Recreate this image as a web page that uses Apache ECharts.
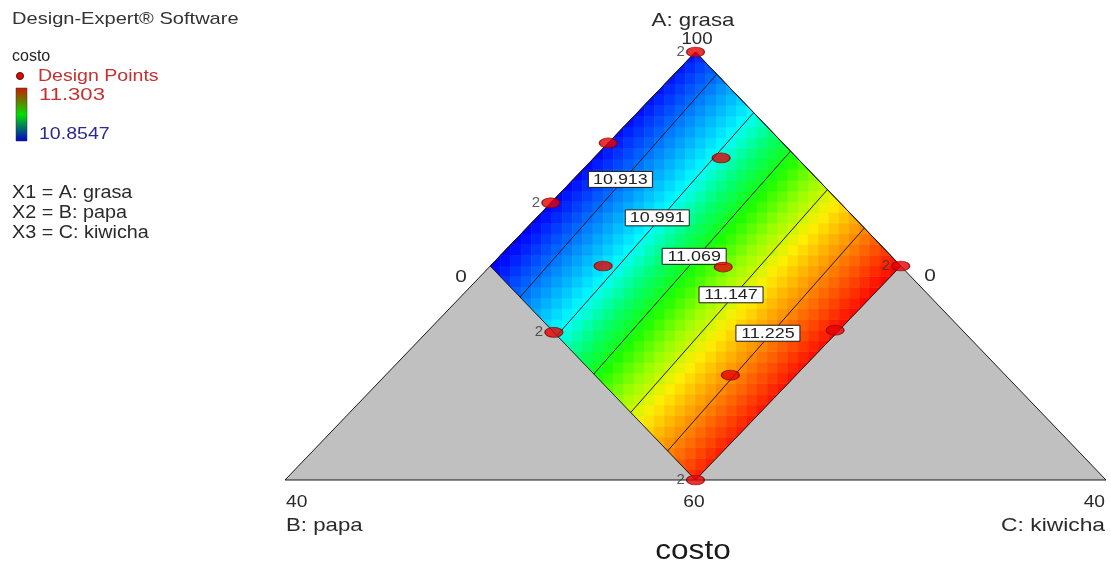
<!DOCTYPE html>
<html>
<head>
<meta charset="utf-8">
<title>costo</title>
<script src="https://cdn.jsdelivr.net/npm/echarts@6/dist/echarts.min.js"></script>
<style>
  html, body { margin: 0; padding: 0; background: #ffffff; }
  #chart { width: 1111px; height: 567px; }
</style>
</head>
<body>
<div id="chart"></div>
<script>
// ---- mixture data (percent of each component, A = 100 - B - C) ----
const simplexB = [0, 40, 0];          // full simplex shown: A 60..100
const simplexC = [0, 0, 40];
const regionB = [0, 20, 20, 0];       // feasible region (B <= 20, C <= 20)
const regionC = [0, 0, 20, 20];

// design points and their replicate counts
const pointB = [0, 8.5, 3.7, 14.1, 14.5, 8.7, 0, 20, 6.2, 13.4, 20];
const pointC = [0, 0, 6.2, 0, 5.5, 11.4, 20, 6.2, 19.8, 16.8, 20];
const pointReps = [2, 1, 1, 2, 1, 1, 2, 2, 1, 1, 2];

// contour levels of the fitted response
const contourLevels = [10.913, 10.991, 11.069, 11.147, 11.225];
const costRange = [10.8547, 11.303];

// linear Scheffe mixture model: costo = bA*A + bB*B + bC*C
const coefA = 0.10868, coefB = 0.10778, coefC = 0.13038;

// rainbow colour ramp, evenly spaced from min to max cost
const rampColors = ['#0000ff', '#0055ff', '#00aaff', '#00ffff', '#00ff71', '#1aff00',
                    '#99ff00', '#ffef00', '#ff9f00', '#ff5000', '#ff0000'];

// ---- helpers ----
// ternary (B, C) -> plane coordinates (x = C - B, y = A)
function tern(b, c) { return [c - b, 100 - b - c]; }
function predictCost(b, c) { return coefA * (100 - b - c) + coefB * b + coefC * c; }
// C on a contour for a given B
function contourC(level, b) { return (level - 100 * coefA - (coefB - coefA) * b) / (coefC - coefA); }

const bMin = Math.min(...regionB), bMax = Math.max(...regionB);
const cMin = Math.min(...regionC), cMax = Math.max(...regionC);
// half-planes of the feasible region in plane coordinates (inside when >= 0)
const regionEdges = [
  p => (100 - p[1] - p[0]) - 2 * bMin,
  p => 2 * bMax - (100 - p[1] - p[0]),
  p => (100 - p[1] + p[0]) - 2 * cMin,
  p => 2 * cMax - (100 - p[1] + p[0])
];
function clipPoly(poly, f) {
  const out = [];
  for (let i = 0; i < poly.length; i++) {
    const p = poly[i], q = poly[(i + 1) % poly.length];
    const fp = f(p), fq = f(q);
    if (fp >= 0) out.push(p);
    if ((fp >= 0) !== (fq >= 0)) {
      const t = fp / (fp - fq);
      out.push([p[0] + t * (q[0] - p[0]), p[1] + t * (q[1] - p[1])]);
    }
  }
  return out;
}

// colour cells over the region (unit squares of the plane)
const cellData = [];
for (let x = -cMax; x < cMax; x++) {
  for (let y = 100 - bMax - cMax; y < 100; y++) {
    const xc = x + 0.5, yc = y + 0.5;
    const b = (100 - yc - xc) / 2, c = (100 - yc + xc) / 2;
    cellData.push([x, y, predictCost(b, c)]);
  }
}

const simplexData = simplexB.map((b, i) => tern(b, simplexC[i]));
const regionData = regionB.map((b, i) => tern(b, regionC[i]));
const pointData = pointB.map((b, i) => tern(b, pointC[i]).concat([pointReps[i]]));
const contourSeries = contourLevels.map(level => ({
  type: 'line',
  data: [tern(bMin, contourC(level, bMin)), tern(bMax, contourC(level, bMax))],
  symbol: 'none',
  silent: true,
  z: 4,
  lineStyle: { color: '#1a1a1a', width: 1 }
}));
const labelB = 9.8;
const contourLabelData = contourLevels.map(level => tern(labelB, contourC(level, labelB)).concat([level]));

const FONT = '"Liberation Sans", Arial, sans-serif';
function txt(text, x, y, size, opts) {
  opts = opts || {};
  return {
    type: 'text', x: x, y: y, scaleX: opts.sx || 1.17, z: 100,
    style: {
      text: text, font: size + 'px ' + FONT,
      fill: opts.color || '#2a2a2a',
      textAlign: opts.align || 'left', align: opts.align || 'left',
      textVerticalAlign: 'middle', verticalAlign: 'middle'
    }
  };
}

const chart = echarts.init(document.getElementById('chart'));
chart.setOption({
  animation: false,
  backgroundColor: '#ffffff',
  grid: { left: 285, right: 5, top: 52, bottom: 87 },
  xAxis: { type: 'value', min: -40, max: 40, show: false },
  yAxis: { type: 'value', min: 60, max: 100, show: false },
  visualMap: {
    show: false, type: 'continuous', seriesIndex: 1, dimension: 2,
    min: costRange[0], max: costRange[1],
    inRange: { color: rampColors }
  },
  series: [
    { // grey simplex
      type: 'custom', silent: true, z: 1,
      data: [[0]],
      renderItem: function (params, api) {
        return {
          type: 'polygon',
          shape: { points: simplexData.map(p => api.coord(p)) },
          style: { fill: '#c0c0c0', stroke: 'none' }
        };
      }
    },
    { // response surface cells
      type: 'custom', silent: true, z: 2,
      data: cellData,
      renderItem: function (params, api) {
        const x0 = api.value(0), y0 = api.value(1);
        let poly = [[x0, y0], [x0 + 1, y0], [x0 + 1, y0 + 1], [x0, y0 + 1]];
        for (const f of regionEdges) {
          poly = clipPoly(poly, f);
          if (poly.length < 3) return null;
        }
        const color = api.visual('color');
        return {
          type: 'polygon',
          shape: { points: poly.map(p => api.coord(p)) },
          style: { fill: color, stroke: color, lineWidth: 0.5 }
        };
      }
    },
    { // outlines of simplex and region
      type: 'custom', silent: true, z: 3,
      data: [[0]],
      renderItem: function (params, api) {
        return {
          type: 'group',
          children: [
            { type: 'polygon', shape: { points: simplexData.map(p => api.coord(p)) },
              style: { fill: 'none', stroke: '#1a1a1a', lineWidth: 1 } },
            { type: 'polygon', shape: { points: regionData.map(p => api.coord(p)) },
              style: { fill: 'none', stroke: '#1a1a1a', lineWidth: 1 } }
          ]
        };
      }
    },
    ...contourSeries,
    { // contour labels
      type: 'custom', silent: true, z: 6,
      data: contourLabelData,
      renderItem: function (params, api) {
        const p = api.coord([api.value(0), api.value(1)]);
        return {
          type: 'group', x: p[0], y: p[1] - 4,
          children: [
            { type: 'rect', shape: { x: -32, y: -8, width: 64, height: 16 },
              style: { fill: '#ffffff', stroke: '#1a1a1a', lineWidth: 1 } },
            { type: 'text', scaleX: 1.28,
              style: { text: api.value(2).toFixed(3), x: 0, y: 0.5,
                       font: '14px ' + FONT, fill: '#222',
                       textAlign: 'center', align: 'center',
                       textVerticalAlign: 'middle', verticalAlign: 'middle' } }
          ]
        };
      }
    },
    { // design points
      type: 'scatter', z: 8, silent: true,
      data: pointData,
      symbol: 'circle',
      symbolSize: [18, 10],
      itemStyle: { color: '#e60000', borderColor: '#7a0000', borderWidth: 1 },
      label: {
        show: true, position: 'left', distance: 1,
        formatter: p => (p.value[2] > 1 ? String(p.value[2]) : ''),
        color: '#333', fontSize: 15, fontFamily: FONT
      }
    }
  ],
  graphic: [
    txt('Design-Expert\u00AE Software', 12, 19, 17, { sx: 1.18, color: '#333' }),
    txt('costo', 12, 57, 16, { sx: 1.0, color: '#222' }),
    { type: 'circle', z: 100, shape: { cx: 20, cy: 76, r: 3.5 },
      style: { fill: '#d01010', stroke: '#700000', lineWidth: 1 } },
    txt('Design Points', 38, 76, 17, { sx: 1.15, color: '#c83030' }),
    { type: 'rect', z: 100, shape: { x: 16, y: 88, width: 11, height: 53 },
      style: {
        fill: new echarts.graphic.LinearGradient(0, 0, 0, 1, [
          { offset: 0, color: '#cc1a00' },
          { offset: 0.5, color: '#00e000' },
          { offset: 1, color: '#0000cc' }
        ]),
        stroke: '#333', lineWidth: 0.5
      } },
    txt('11.303', 39, 95.5, 17, { sx: 1.3, color: '#c83030' }),
    txt('10.8547', 39, 134.5, 17, { sx: 1.15, color: '#2a2a90' }),
    txt('X1 = A: grasa', 12, 193, 17.5, { sx: 1.13 }),
    txt('X2 = B: papa', 12, 213.5, 17.5, { sx: 1.13 }),
    txt('X3 = C: kiwicha', 12, 233, 17.5, { sx: 1.13 }),
    txt('A: grasa', 693, 21, 19, { align: 'center' }),
    txt('100', 697, 40, 16, { align: 'center' }),
    txt('0', 461, 277.5, 16, { align: 'center', sx: 1.3 }),
    txt('0', 930, 277, 16, { align: 'center', sx: 1.3 }),
    txt('40', 286, 502.5, 16, { sx: 1.2 }),
    txt('B: papa', 286, 525.5, 19, { sx: 1.17 }),
    txt('60', 694, 502.5, 16, { align: 'center', sx: 1.2 }),
    txt('40', 1105, 502.5, 16, { align: 'right', sx: 1.2 }),
    txt('C: kiwicha', 1105, 525.5, 19, { align: 'right', sx: 1.2 }),
    txt('costo', 693, 552, 27, { align: 'center', color: '#1a1a1a' })
  ]
});
</script>
</body>
</html>
